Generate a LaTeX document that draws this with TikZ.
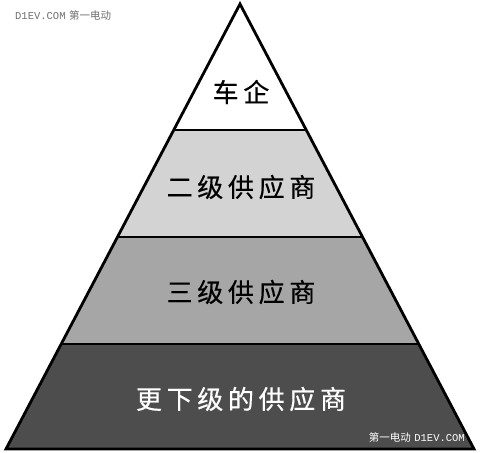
\documentclass[tikz,border=0pt]{standalone}
\usepackage{fontspec}
\usepackage{xcolor}
\newfontfamily\cjk{Noto Sans CJK SC}
\newfontfamily\cjkwide[LetterSpace=18, FakeBold=0.4]{Noto Sans CJK SC}
\newfontfamily\wmmono{Liberation Mono}
\usetikzlibrary{calc}

\definecolor{tiertop}{HTML}{FFFFFF}
\definecolor{tiertwo}{HTML}{D3D3D3}
\definecolor{tierthree}{HTML}{A6A6A6}
\definecolor{tierbase}{HTML}{4D4D4D}
\definecolor{wmgray}{HTML}{6E6E6E}

\begin{document}
\begin{tikzpicture}[
    x=1pt, y=-1pt,
    outline/.style={
        draw=black,
        line width=2.8pt,
        line join=miter
    },
    tiertext/.style={
        font=\cjkwide\fontsize{26}{30}\selectfont,
        text=black,
        inner sep=0pt
    },
    watermark/.style={
        font=\fontsize{10.5}{12}\selectfont,
        inner sep=0pt
    }
]
\useasboundingbox (0,0) rectangle (480,453);

% Corners of the pyramid
\coordinate (apex) at (240,4);
\coordinate (bl) at (6,449);
\coordinate (br) at (474,449);

% Tier borders on both sides
\coordinate (l1) at ($(apex)!0.2831!(bl)$);
\coordinate (r1) at ($(apex)!0.2831!(br)$);
\coordinate (l2) at ($(apex)!0.5236!(bl)$);
\coordinate (r2) at ($(apex)!0.5236!(br)$);
\coordinate (l3) at ($(apex)!0.7640!(bl)$);
\coordinate (r3) at ($(apex)!0.7640!(br)$);

% Fills
\fill[tiertop] (apex) -- (r1) -- (l1) -- cycle;
\fill[tiertwo] (l1) -- (r1) -- (r2) -- (l2) -- cycle;
\fill[tierthree] (l2) -- (r2) -- (r3) -- (l3) -- cycle;
\fill[tierbase] (l3) -- (r3) -- (br) -- (bl) -- cycle;

% Outline and separators
\draw[outline] (apex) -- (br) -- (bl) -- cycle;
\draw[outline] (l1) -- (r1);
\draw[outline] (l2) -- (r2);
\draw[outline] (l3) -- (r3);

% Tier labels
\node[tiertext] (carmaker) at (241,92) {车企};
\node[tiertext] (second) at (241,187) {二级供应商};
\node[tiertext] (third) at (241,292) {三级供应商};
\node[tiertext, text=white] (lower) at (241,399) {更下级的供应商};

% Watermarks
\node[watermark, text=wmgray, anchor=west] (wmtop) at (15,15) {{\wmmono D1EV.COM} {\cjk 第一电动}};
\node[watermark, text=white, anchor=east] (wmbottom) at (465,437) {{\cjk 第一电动} {\wmmono D1EV.COM}};

\end{tikzpicture}
\end{document}
